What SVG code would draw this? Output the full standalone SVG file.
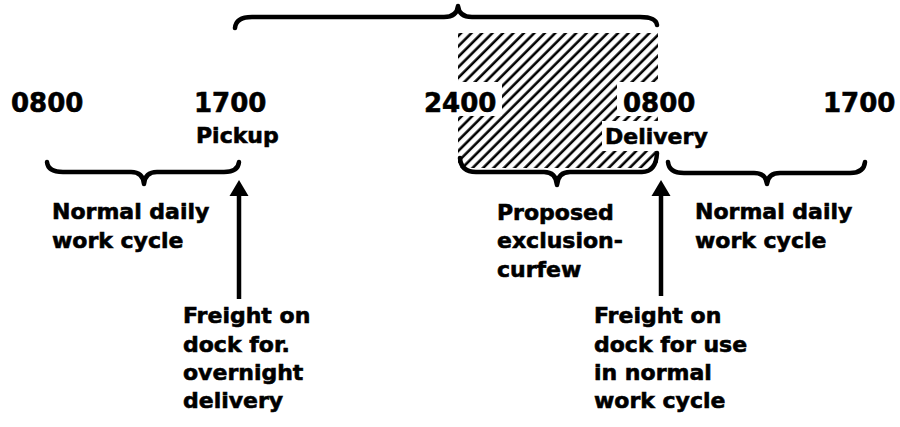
<svg xmlns="http://www.w3.org/2000/svg" width="900" height="427" viewBox="0 0 900 427">
<style>
text{font-family:"DejaVu Sans","Liberation Sans",sans-serif;font-weight:bold;fill:#000;stroke:#000;stroke-width:0.6}
.num{font-size:26px}
.lbl{font-size:22px}
.brace{fill:none;stroke:#000;stroke-width:4.5;stroke-linecap:round;stroke-linejoin:round}
.shaft{stroke:#000;stroke-width:4.5}
</style>
<defs>
<pattern id="hatch" width="7.4" height="10" patternUnits="userSpaceOnUse" patternTransform="rotate(45)">
<line x1="1.6" y1="0" x2="1.6" y2="10" stroke="#000" stroke-width="2.6"/>
</pattern>
</defs>
<rect width="900" height="427" fill="#fff"/>
<g id="curfew-zone">
<rect x="458" y="33" width="200" height="135" fill="url(#hatch)"/>
<rect x="425" y="82" width="77" height="34" fill="#fff"/>
<rect x="617" y="82" width="80" height="34" fill="#fff"/>
<rect x="602" y="121" width="110" height="30" fill="#fff"/>
</g>
<g id="times">
<text class="num" x="11" y="112">0800</text>
<text class="num" x="194" y="112">1700</text>
<text class="num" x="424" y="112">2400</text>
<text class="num" x="623" y="112">0800</text>
<text class="num" x="823" y="112">1700</text>
</g>
<g id="pickup"><text class="lbl" x="196" y="143">Pickup</text></g>
<g id="delivery"><text class="lbl" x="605" y="144">Delivery</text></g>
<g id="top-brace"><path class="brace" d="M235,28 Q236,17 252,17 L444,17 Q457,17 458,6 Q459,17 472,17 L640,17 Q656,17 657,25"/></g>
<g id="left-cycle">
<path class="brace" d="M47,162 Q48,172 63,172 L131,172 Q143,172 144,184 Q145,172 157,172 L224,172 Q238,172 239,162"/>
<text class="lbl" x="52" y="219">Normal daily</text>
<text class="lbl" x="52" y="248">work cycle</text>
</g>
<g id="curfew">
<path class="brace" d="M460,158 Q461,172 476,172 L544,172 Q556,172 557,185 Q558,172 570,172 L642,172 Q656,172 657,153"/>
<text class="lbl" x="497" y="220">Proposed</text>
<text class="lbl" x="497" y="248">exclusion-</text>
<text class="lbl" x="497" y="277">curfew</text>
</g>
<g id="right-cycle">
<path class="brace" d="M668,162 Q669,173 684,173 L754,173 Q766,173 767,184 Q768,173 780,173 L850,173 Q864,173 865,162"/>
<text class="lbl" x="695" y="219">Normal daily</text>
<text class="lbl" x="695" y="248">work cycle</text>
</g>
<g id="connectors">
<line class="shaft" x1="239" y1="192" x2="239" y2="299"/>
<polygon points="239,180 229.5,196 248.5,196" fill="#000"/>
<line class="shaft" x1="661" y1="192" x2="661" y2="296"/>
<polygon points="661,180 651.5,196 670.5,196" fill="#000"/>
</g>
<g id="freight-overnight">
<text class="lbl" x="183" y="323">Freight on</text>
<text class="lbl" x="183" y="352">dock for.</text>
<text class="lbl" x="183" y="380">overnight</text>
<text class="lbl" x="183" y="408">delivery</text>
</g>
<g id="freight-normal">
<text class="lbl" x="594" y="323">Freight on</text>
<text class="lbl" x="594" y="352">dock for use</text>
<text class="lbl" x="594" y="380">in normal</text>
<text class="lbl" x="594" y="408">work cycle</text>
</g>
</svg>
